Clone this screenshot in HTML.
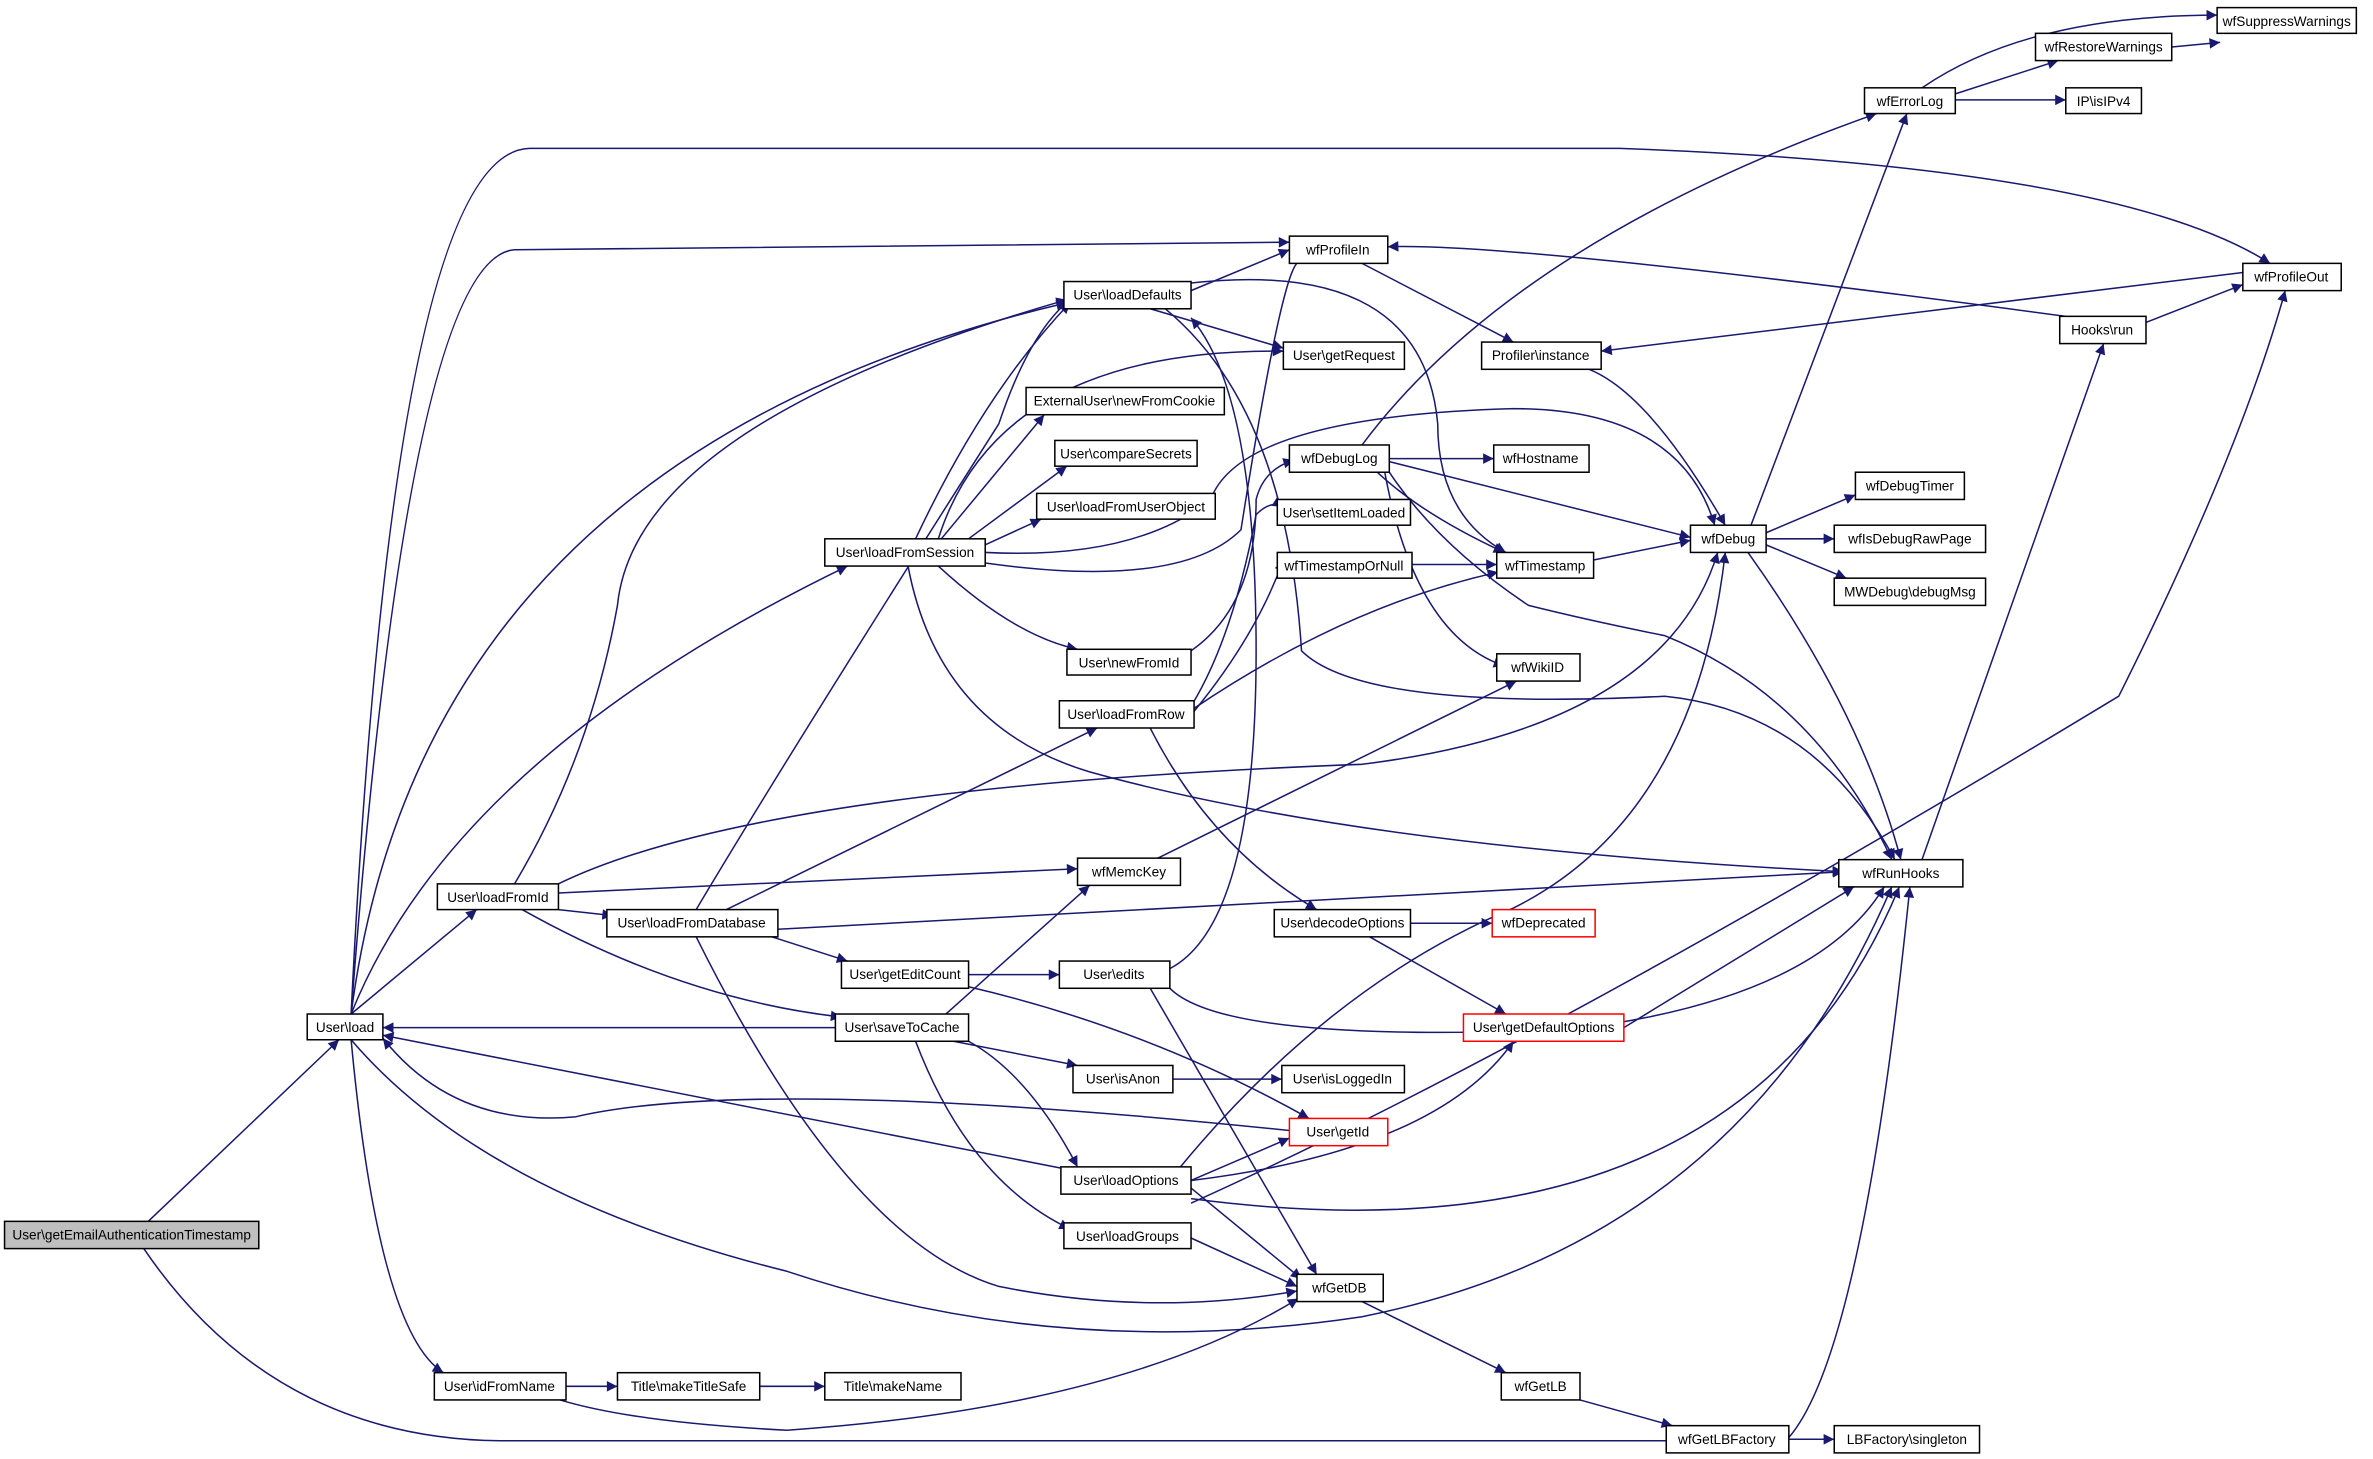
<!DOCTYPE html>
<html><head><meta charset="utf-8"><style>
html,body{margin:0;padding:0;background:#fff;}
svg{display:block;}
text{font-family:"Liberation Sans",sans-serif;font-size:9px;fill:#000;}
</style></head><body>
<svg width="2373" height="1459" viewBox="0 0 1568 964" xmlns="http://www.w3.org/2000/svg">
<defs>
<marker id="a" viewBox="0 0 10 10" refX="10" refY="5" markerWidth="9" markerHeight="7" markerUnits="userSpaceOnUse" orient="auto">
<path d="M0,0 L10,5 L0,10 z" fill="#191970"/>
</marker>
</defs>
<g fill="none" stroke="#191970" stroke-width="1" marker-end="url(#a)">
<path d="M98,807 L224,687"/>
<path d="M95,825 Q180,950 330,952 L1180,952 Q1230,900 1262,586"/>
<path d="M232,670 L315,601"/>
<path d="M232,687 Q250,880 293,907"/>
<path d="M232,670 Q300,500 560,374"/>
<path d="M232,670 Q280,300 705,200"/>
<path d="M232,670 Q270,170 340,165 L852,160"/>
<path d="M232,670 Q260,100 350,98 L1070,98 Q1400,110 1500,174"/>
<path d="M232,687 Q320,790 520,840 Q700,900 900,870 Q1150,820 1250,586"/>
<path d="M552,679 L253,679"/>
<path d="M707,773 L253,684"/>
<path d="M862,748 Q500,710 380,738 Q300,745 253,686"/>
<path d="M340,584 Q390,500 408,400 Q420,280 705,198"/>
<path d="M369,601 L405,605"/>
<path d="M345,601 Q450,660 556,672"/>
<path d="M369,590 L712,574"/>
<path d="M369,584 Q500,520 900,505 Q1100,480 1135,365"/>
<path d="M460,601 Q520,500 660,280 Q680,220 707,198"/>
<path d="M480,601 L725,481"/>
<path d="M510,619 L560,635"/>
<path d="M460,619 Q560,820 660,850 Q760,870 857,853"/>
<path d="M514,614 L1218,576"/>
<path d="M605,356 Q650,260 707,200"/>
<path d="M620,356 Q660,230 848,232"/>
<path d="M622,356 L690,274"/>
<path d="M640,356 L705,308"/>
<path d="M651,360 L688,343"/>
<path d="M620,374 Q670,420 712,429"/>
<path d="M651,365 Q750,370 800,330 Q820,275 1000,270 Q1110,270 1133,347"/>
<path d="M651,372 Q780,390 820,350 Q850,160 860,174"/>
<path d="M600,374 Q620,480 720,510 Q900,560 1218,576"/>
<path d="M787,192 L852,165"/>
<path d="M760,204 L848,230"/>
<path d="M787,187 Q940,170 950,280 Q950,340 995,365"/>
<path d="M770,204 Q850,270 860,430 Q900,470 1100,460 Q1200,470 1252,568"/>
<path d="M900,174 L1000,226"/>
<path d="M1050,244 Q1090,260 1140,347"/>
<path d="M1365,209 Q1000,160 917,163"/>
<path d="M1418,213 L1482,188"/>
<path d="M1482,180 L1058,232"/>
<path d="M918,303 L987,303"/>
<path d="M910,312 Q940,340 994,365"/>
<path d="M918,305 L1117,355"/>
<path d="M915,312 Q935,420 994,440"/>
<path d="M918,312 Q950,360 1010,400 Q1050,410 1100,420 Q1200,460 1250,568"/>
<path d="M900,294 Q1000,160 1240,75"/>
<path d="M933,373 L989,373"/>
<path d="M1053,370 L1117,357"/>
<path d="M1157,347 L1260,75"/>
<path d="M1167,352 L1226,327"/>
<path d="M1167,356 L1212,356"/>
<path d="M1167,360 L1220,382"/>
<path d="M1155,365 Q1230,470 1256,568"/>
<path d="M1270,568 L1390,227"/>
<path d="M1270,58 Q1340,10 1465,10"/>
<path d="M1292,62 L1360,40"/>
<path d="M1292,66 L1365,66"/>
<path d="M1435,31 L1467,28"/>
<path d="M788,465 Q815,420 830,340 Q840,330 848,335"/>
<path d="M789,470 Q830,420 848,370"/>
<path d="M789,468 Q890,400 990,378"/>
<path d="M760,481 Q800,560 870,601"/>
<path d="M787,430 Q830,400 830,330 Q835,310 855,304"/>
<path d="M765,567 L1002,450"/>
<path d="M625,670 L720,585"/>
<path d="M630,688 L712,704"/>
<path d="M640,688 Q680,710 712,771"/>
<path d="M605,688 Q640,780 707,812"/>
<path d="M640,644 L700,644"/>
<path d="M640,652 Q760,680 865,739"/>
<path d="M760,653 L870,842"/>
<path d="M773,653 Q810,690 1040,680 Q1200,660 1245,586"/>
<path d="M773,640 Q830,610 830,430 Q830,260 787,210"/>
<path d="M775,713 L847,713"/>
<path d="M787,780 L852,752"/>
<path d="M787,780 Q950,760 1000,688"/>
<path d="M787,785 L860,845"/>
<path d="M787,792 Q1150,840 1255,586"/>
<path d="M780,771 Q880,650 1000,600 Q1120,540 1140,365"/>
<path d="M787,795 Q1020,690 1400,460 Q1480,300 1510,192"/>
<path d="M787,818 L857,850"/>
<path d="M900,860 L995,907"/>
<path d="M1044,925 L1105,942"/>
<path d="M1182,951 L1212,951"/>
<path d="M374,916 L408,916"/>
<path d="M502,916 L545,916"/>
<path d="M370,925 Q420,940 520,945 Q740,930 858,858"/>
<path d="M932,610 L986,610"/>
<path d="M905,619 L995,670"/>
<path d="M1073,679 L1225,586"/>
</g>
<g stroke-width="1">
<rect x="3" y="807" width="168" height="18" fill="#bfbfbf" stroke="#000"/>
<rect x="203" y="670" width="50" height="17" fill="#fff" stroke="#000"/>
<rect x="289" y="584" width="80" height="17" fill="#fff" stroke="#000"/>
<rect x="287" y="907" width="87" height="18" fill="#fff" stroke="#000"/>
<rect x="545" y="356" width="106" height="18" fill="#fff" stroke="#000"/>
<rect x="703" y="186" width="84" height="18" fill="#fff" stroke="#000"/>
<rect x="401" y="601" width="113" height="18" fill="#fff" stroke="#000"/>
<rect x="552" y="670" width="88" height="18" fill="#fff" stroke="#000"/>
<rect x="556" y="635" width="84" height="18" fill="#fff" stroke="#000"/>
<rect x="700" y="463" width="89" height="18" fill="#fff" stroke="#000"/>
<rect x="678" y="256" width="131" height="18" fill="#fff" stroke="#000"/>
<rect x="697" y="291" width="94" height="17" fill="#fff" stroke="#000"/>
<rect x="685" y="326" width="118" height="17" fill="#fff" stroke="#000"/>
<rect x="705" y="429" width="82" height="17" fill="#fff" stroke="#000"/>
<rect x="852" y="156" width="65" height="18" fill="#fff" stroke="#000"/>
<rect x="848" y="226" width="80" height="18" fill="#fff" stroke="#000"/>
<rect x="852" y="294" width="66" height="18" fill="#fff" stroke="#000"/>
<rect x="844" y="330" width="88" height="17" fill="#fff" stroke="#000"/>
<rect x="844" y="365" width="89" height="17" fill="#fff" stroke="#000"/>
<rect x="712" y="567" width="68" height="18" fill="#fff" stroke="#000"/>
<rect x="700" y="635" width="73" height="18" fill="#fff" stroke="#000"/>
<rect x="709" y="704" width="66" height="18" fill="#fff" stroke="#000"/>
<rect x="701" y="771" width="86" height="18" fill="#fff" stroke="#000"/>
<rect x="703" y="808" width="84" height="17" fill="#fff" stroke="#000"/>
<rect x="847" y="704" width="81" height="18" fill="#fff" stroke="#000"/>
<rect x="852" y="739" width="65" height="18" fill="#fff" stroke="#f00"/>
<rect x="857" y="842" width="57" height="18" fill="#fff" stroke="#000"/>
<rect x="408" y="907" width="94" height="18" fill="#fff" stroke="#000"/>
<rect x="545" y="907" width="90" height="18" fill="#fff" stroke="#000"/>
<rect x="992" y="907" width="52" height="18" fill="#fff" stroke="#000"/>
<rect x="1101" y="942" width="81" height="18" fill="#fff" stroke="#000"/>
<rect x="1212" y="942" width="96" height="18" fill="#fff" stroke="#000"/>
<rect x="842" y="601" width="90" height="18" fill="#fff" stroke="#000"/>
<rect x="986" y="601" width="68" height="18" fill="#fff" stroke="#f00"/>
<rect x="967" y="670" width="106" height="18" fill="#fff" stroke="#f00"/>
<rect x="979" y="226" width="79" height="18" fill="#fff" stroke="#000"/>
<rect x="987" y="294" width="63" height="18" fill="#fff" stroke="#000"/>
<rect x="989" y="365" width="64" height="17" fill="#fff" stroke="#000"/>
<rect x="989" y="432" width="55" height="18" fill="#fff" stroke="#000"/>
<rect x="1117" y="347" width="50" height="18" fill="#fff" stroke="#000"/>
<rect x="1226" y="312" width="72" height="18" fill="#fff" stroke="#000"/>
<rect x="1212" y="347" width="100" height="18" fill="#fff" stroke="#000"/>
<rect x="1212" y="382" width="100" height="18" fill="#fff" stroke="#000"/>
<rect x="1215" y="568" width="82" height="18" fill="#fff" stroke="#000"/>
<rect x="1361" y="209" width="57" height="18" fill="#fff" stroke="#000"/>
<rect x="1482" y="174" width="65" height="18" fill="#fff" stroke="#000"/>
<rect x="1232" y="58" width="60" height="17" fill="#fff" stroke="#000"/>
<rect x="1345" y="22" width="90" height="18" fill="#fff" stroke="#000"/>
<rect x="1365" y="58" width="50" height="17" fill="#fff" stroke="#000"/>
<rect x="1465" y="5" width="92" height="17" fill="#fff" stroke="#000"/>
</g>
<g text-anchor="middle">
<text x="87" y="819">User\getEmailAuthenticationTimestamp</text>
<text x="228" y="682">User\load</text>
<text x="329" y="596">User\loadFromId</text>
<text x="330" y="919">User\idFromName</text>
<text x="598" y="368">User\loadFromSession</text>
<text x="745" y="198">User\loadDefaults</text>
<text x="457" y="613">User\loadFromDatabase</text>
<text x="596" y="682">User\saveToCache</text>
<text x="598" y="647">User\getEditCount</text>
<text x="744" y="475">User\loadFromRow</text>
<text x="743" y="268">ExternalUser\newFromCookie</text>
<text x="744" y="303">User\compareSecrets</text>
<text x="744" y="338">User\loadFromUserObject</text>
<text x="746" y="441">User\newFromId</text>
<text x="884" y="168">wfProfileIn</text>
<text x="888" y="238">User\getRequest</text>
<text x="885" y="306">wfDebugLog</text>
<text x="888" y="342">User\setItemLoaded</text>
<text x="888" y="377">wfTimestampOrNull</text>
<text x="746" y="579">wfMemcKey</text>
<text x="736" y="647">User\edits</text>
<text x="742" y="716">User\isAnon</text>
<text x="744" y="783">User\loadOptions</text>
<text x="745" y="820">User\loadGroups</text>
<text x="887" y="716">User\isLoggedIn</text>
<text x="884" y="751">User\getId</text>
<text x="885" y="854">wfGetDB</text>
<text x="455" y="919">Title\makeTitleSafe</text>
<text x="590" y="919">Title\makeName</text>
<text x="1018" y="919">wfGetLB</text>
<text x="1141" y="954">wfGetLBFactory</text>
<text x="1260" y="954">LBFactory\singleton</text>
<text x="887" y="613">User\decodeOptions</text>
<text x="1020" y="613">wfDeprecated</text>
<text x="1020" y="682">User\getDefaultOptions</text>
<text x="1018" y="238">Profiler\instance</text>
<text x="1018" y="306">wfHostname</text>
<text x="1021" y="377">wfTimestamp</text>
<text x="1016" y="444">wfWikiID</text>
<text x="1142" y="359">wfDebug</text>
<text x="1262" y="324">wfDebugTimer</text>
<text x="1262" y="359">wfIsDebugRawPage</text>
<text x="1262" y="394">MWDebug\debugMsg</text>
<text x="1256" y="580">wfRunHooks</text>
<text x="1389" y="221">Hooks\run</text>
<text x="1514" y="186">wfProfileOut</text>
<text x="1262" y="70">wfErrorLog</text>
<text x="1390" y="34">wfRestoreWarnings</text>
<text x="1390" y="70">IP\isIPv4</text>
<text x="1511" y="17">wfSuppressWarnings</text>
</g>
</svg>
</body></html>
